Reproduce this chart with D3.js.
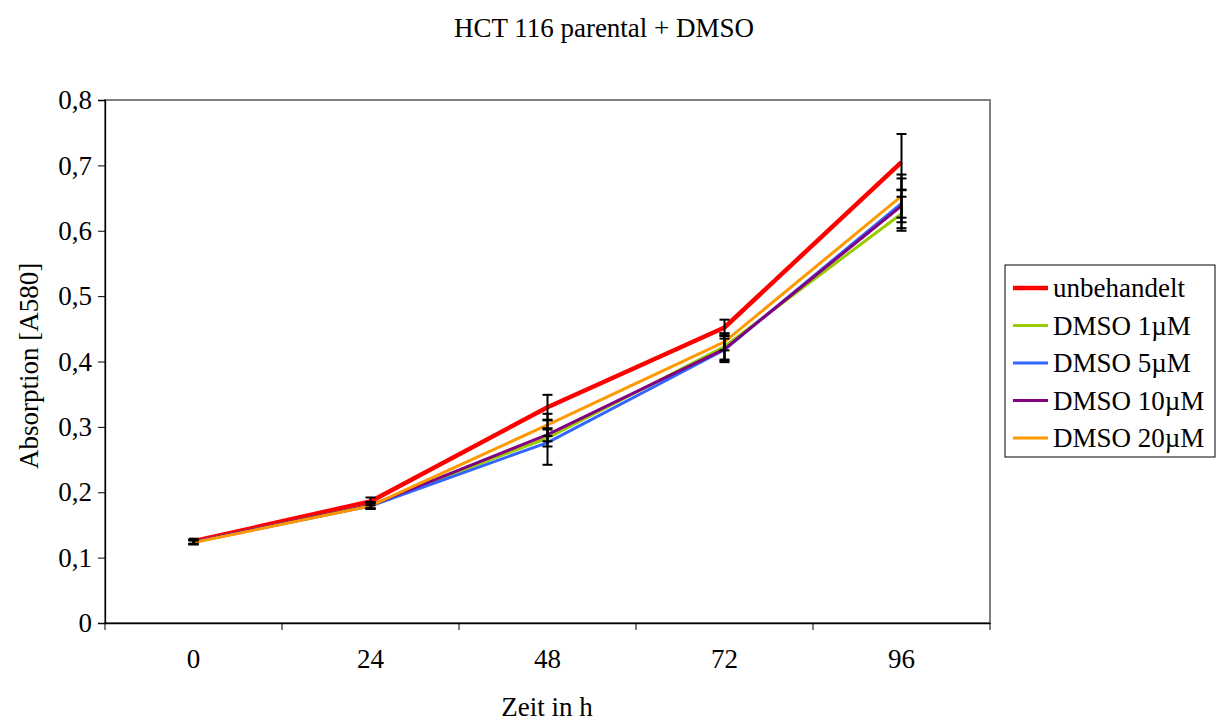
<!DOCTYPE html>
<html><head><meta charset="utf-8">
<script src="https://cdn.jsdelivr.net/npm/d3@7/dist/d3.min.js"></script>
<style>body{margin:0;background:#fff}svg{display:block;font-family:"Liberation Serif","Times New Roman",serif}</style>
</head><body><svg id="c" width="1220" height="723"></svg>
<script>
const categories = ["0","24","48","72","96"];
const seriesNames = ["unbehandelt","DMSO 1µM","DMSO 5µM","DMSO 10µM","DMSO 20µM"];
const seriesColors = ["#FF0000","#99CC00","#3366FF","#800080","#FF9900"];
const unbehandelt = [0.125,0.186,0.330,0.452,0.705];
const dmso1 = [0.124,0.180,0.283,0.423,0.626];
const dmso5 = [0.124,0.179,0.276,0.418,0.642];
const dmso10 = [0.124,0.180,0.288,0.419,0.638];
const dmso20 = [0.123,0.179,0.303,0.430,0.653];
const errUnbehandelt = [0.004,0.006,0.019,0.012,0.043];
const errDmso1 = [0.003,0.005,0.013,0.020,0.026];
const errDmso5 = [0.003,0.004,0.034,0.017,0.038];
const errDmso10 = [0.003,0.005,0.010,0.020,0.025];
const errDmso20 = [0.003,0.004,0.017,0.013,0.033];
const yTicks = [0,0.1,0.2,0.3,0.4,0.5,0.6,0.7,0.8];

const values = [unbehandelt,dmso1,dmso5,dmso10,dmso20];
const errors = [errUnbehandelt,errDmso1,errDmso5,errDmso10,errDmso20];
const widths = [4.5,3,3,3,3];
const FS = 27;

const svg = d3.select("#c");
const L=105,R=990,T=100,B=623;
const x = d3.scaleBand().domain(categories).range([L,R]);
const y = d3.scaleLinear().domain([0,0.8]).range([B,T]);
const fmt = d => d===0 ? "0" : d3.format(".1f")(d).replace(".",",");

// plot border
svg.append("rect").attr("x",L).attr("y",T).attr("width",R-L).attr("height",B-T)
  .attr("fill","none").attr("stroke","#808080").attr("stroke-width",2);

// y axis
const ya = svg.append("g").attr("transform",`translate(${L},0)`)
  .call(d3.axisLeft(y).tickValues(yTicks).tickFormat(fmt).tickSize(7).tickPadding(6));
ya.select(".domain").attr("stroke","#000").attr("stroke-width",1.3);
ya.selectAll(".tick line").attr("stroke","#000");
ya.selectAll("text").attr("font-size",FS).attr("font-family","Liberation Serif").attr("fill","#000");

// x axis
const xa = svg.append("g").attr("transform",`translate(0,${B})`)
  .call(d3.axisBottom(x).tickSize(0).tickPadding(26));
xa.select(".domain").attr("stroke","#000").attr("stroke-width",1.3);
xa.selectAll("text").attr("font-size",FS).attr("font-family","Liberation Serif").attr("fill","#000");
const xbounds = x.domain().map(d=>x(d)).concat([R]);
xa.selectAll(".xt").data(xbounds).enter().append("line")
  .attr("x1",d=>d).attr("x2",d=>d).attr("y1",0).attr("y2",7).attr("stroke","#000");

const cx = d => x(d)+x.bandwidth()/2;
const line = d3.line().x((d,i)=>cx(categories[i])).y(d=>y(d));

values.forEach((v,s)=>{
  svg.append("path").datum(v).attr("d",line).attr("fill","none")
    .attr("stroke",seriesColors[s]).attr("stroke-width",widths[s]).attr("stroke-linejoin","round");
});
values.forEach((v,s)=>{
  const g = svg.append("g");
  v.forEach((val,i)=>{
    const xc = cx(categories[i]), e = errors[s][i];
    g.append("line").attr("x1",xc).attr("x2",xc).attr("y1",y(val+e)).attr("y2",y(val-e)).attr("stroke","#000").attr("stroke-width",2);
    [val+e,val-e].forEach(t=>g.append("line").attr("x1",xc-5).attr("x2",xc+5).attr("y1",y(t)).attr("y2",y(t)).attr("stroke","#000").attr("stroke-width",2));
  });
});

// title & labels
svg.append("text").attr("x",604).attr("y",37).attr("text-anchor","middle").attr("font-size",FS).text("HCT 116 parental + DMSO");
svg.append("text").attr("x",547).attr("y",716).attr("text-anchor","middle").attr("font-size",FS).text("Zeit in h");
svg.append("text").attr("transform","translate(38,366) rotate(-90)").attr("text-anchor","middle").attr("font-size",FS).text("Absorption [A580]");

// legend
const lg = svg.append("g");
lg.append("rect").attr("x",1005).attr("y",265).attr("width",210).attr("height",192).attr("fill","#fff").attr("stroke","#000").attr("stroke-width",1);
seriesNames.forEach((n,i)=>{
  const yy = 288 + i*37.5;
  lg.append("line").attr("x1",1013).attr("x2",1048).attr("y1",yy).attr("y2",yy).attr("stroke",seriesColors[i]).attr("stroke-width",widths[i]);
  lg.append("text").attr("x",1053).attr("y",yy+9).attr("font-size",FS).text(n);
});
</script></body></html>
